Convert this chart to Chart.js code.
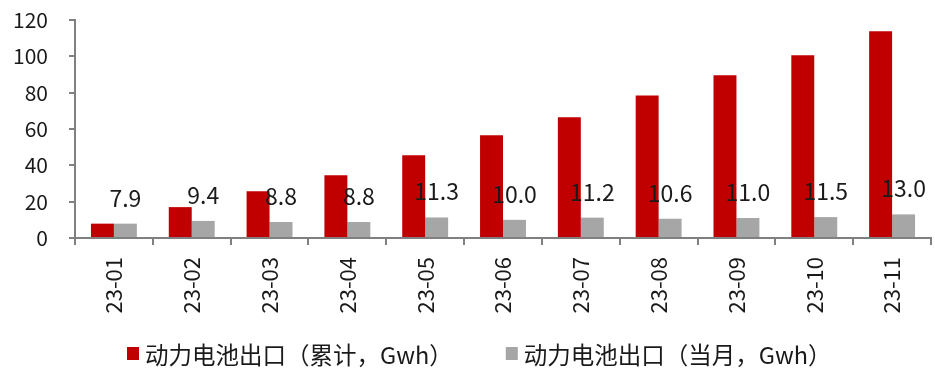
<!DOCTYPE html>
<html>
<head>
<meta charset="utf-8">
<script src="https://cdn.jsdelivr.net/npm/chart.js@4.4.1/dist/chart.umd.min.js"></script>
<style>
  html, body { margin: 0; padding: 0; background: #ffffff; }
  #wrap { width: 935px; height: 369px; }
</style>
</head>
<body>
<div id="wrap"><canvas id="c" width="935" height="369"></canvas></div>
<script>
// Monthly categories
const months = ['23-01', '23-02', '23-03', '23-04', '23-05', '23-06', '23-07', '23-08', '23-09', '23-10', '23-11'];
// Power battery exports, year-to-date cumulative (GWh)
const cumulative = [7.9, 17.0, 25.8, 34.6, 45.6, 56.5, 66.5, 78.5, 89.6, 100.6, 113.8];
// Power battery exports, single month (GWh)
const monthly = [7.9, 9.4, 8.8, 8.8, 11.3, 10.0, 11.2, 10.6, 11.0, 11.5, 13.0];
// Value axis range
const yMin = 0, yMax = 120, yStep = 20;
// Series names
const seriesNames = ['动力电池出口（累计，Gwh）', '动力电池出口（当月，Gwh）'];

const FONT = '"Noto Sans CJK SC", "Noto Sans", sans-serif';
const TEXT = '#1a1a1a';
const AXIS = '#808080';

// Writes the monthly value above each grey bar
const monthlyLabels = {
  id: 'monthlyLabels',
  afterDatasetsDraw(chart) {
    const meta = chart.getDatasetMeta(1);
    const ctx = chart.ctx;
    ctx.save();
    ctx.font = '23px ' + FONT;
    ctx.fillStyle = TEXT;
    ctx.textAlign = 'center';
    ctx.textBaseline = 'alphabetic';
    meta.data.forEach((bar, i) => {
      ctx.fillText(monthly[i].toFixed(1), bar.x, bar.y - 17);
    });
    ctx.restore();
  }
};

// Single-row legend under the axis labels: square swatch, short gap, series name
const bottomLegend = {
  id: 'bottomLegend',
  afterDraw(chart) {
    const ctx = chart.ctx;
    const sets = chart.data.datasets;
    const box = 12, gapText = 6, gapItem = 53, midY = 355, centerX = 479;
    ctx.save();
    ctx.font = '23.5px ' + FONT;
    ctx.textBaseline = 'middle';
    ctx.textAlign = 'left';
    const widths = sets.map(ds => ctx.measureText(ds.label).width);
    const total = widths.reduce((s, w) => s + box + gapText + w, 0) + gapItem * (sets.length - 1);
    let x = Math.round(centerX - total / 2);
    sets.forEach((ds, i) => {
      ctx.fillStyle = ds.backgroundColor;
      ctx.fillRect(x, midY - 8, box, box + 1);
      ctx.fillStyle = TEXT;
      ctx.fillText(ds.label, x + box + gapText, midY);
      x += box + gapText + widths[i] + gapItem;
    });
    ctx.restore();
  }
};

new Chart(document.getElementById('c'), {
  type: 'bar',
  data: {
    labels: months,
    datasets: [
      { label: seriesNames[0], data: cumulative, backgroundColor: '#C00000', borderWidth: 0 },
      { label: seriesNames[1], data: monthly, backgroundColor: '#A6A6A6', borderWidth: 0 }
    ]
  },
  options: {
    responsive: false,
    devicePixelRatio: 1,
    animation: false,
    layout: { padding: { left: 12, right: 4, top: 0, bottom: 0 } },
    datasets: { bar: { categoryPercentage: 0.59, barPercentage: 1.0 } },
    scales: {
      x: {
        grid: { display: true, drawOnChartArea: false, drawTicks: true, tickLength: 7, color: AXIS, lineWidth: 2, offset: true },
        border: { display: true, color: AXIS, width: 2 },
        ticks: { color: TEXT, font: { family: FONT, size: 22 }, minRotation: 90, maxRotation: 90, padding: 12, autoSkip: false },
        afterFit(scale) { scale.height = 131; }
      },
      y: {
        min: yMin, max: yMax,
        grid: { display: true, drawOnChartArea: false, drawTicks: true, tickLength: 6, color: AXIS, lineWidth: 2 },
        border: { display: true, color: AXIS, width: 2 },
        ticks: { stepSize: yStep, autoSkip: false, color: TEXT, font: { family: FONT, size: 21 }, padding: 21 },
        afterFit(scale) { scale.width = 63; scale.paddingTop = 20; scale.paddingBottom = 0; }
      }
    },
    plugins: {
      legend: { display: false },
      tooltip: { enabled: false }
    }
  },
  plugins: [monthlyLabels, bottomLegend]
});
</script>
</body>
</html>
